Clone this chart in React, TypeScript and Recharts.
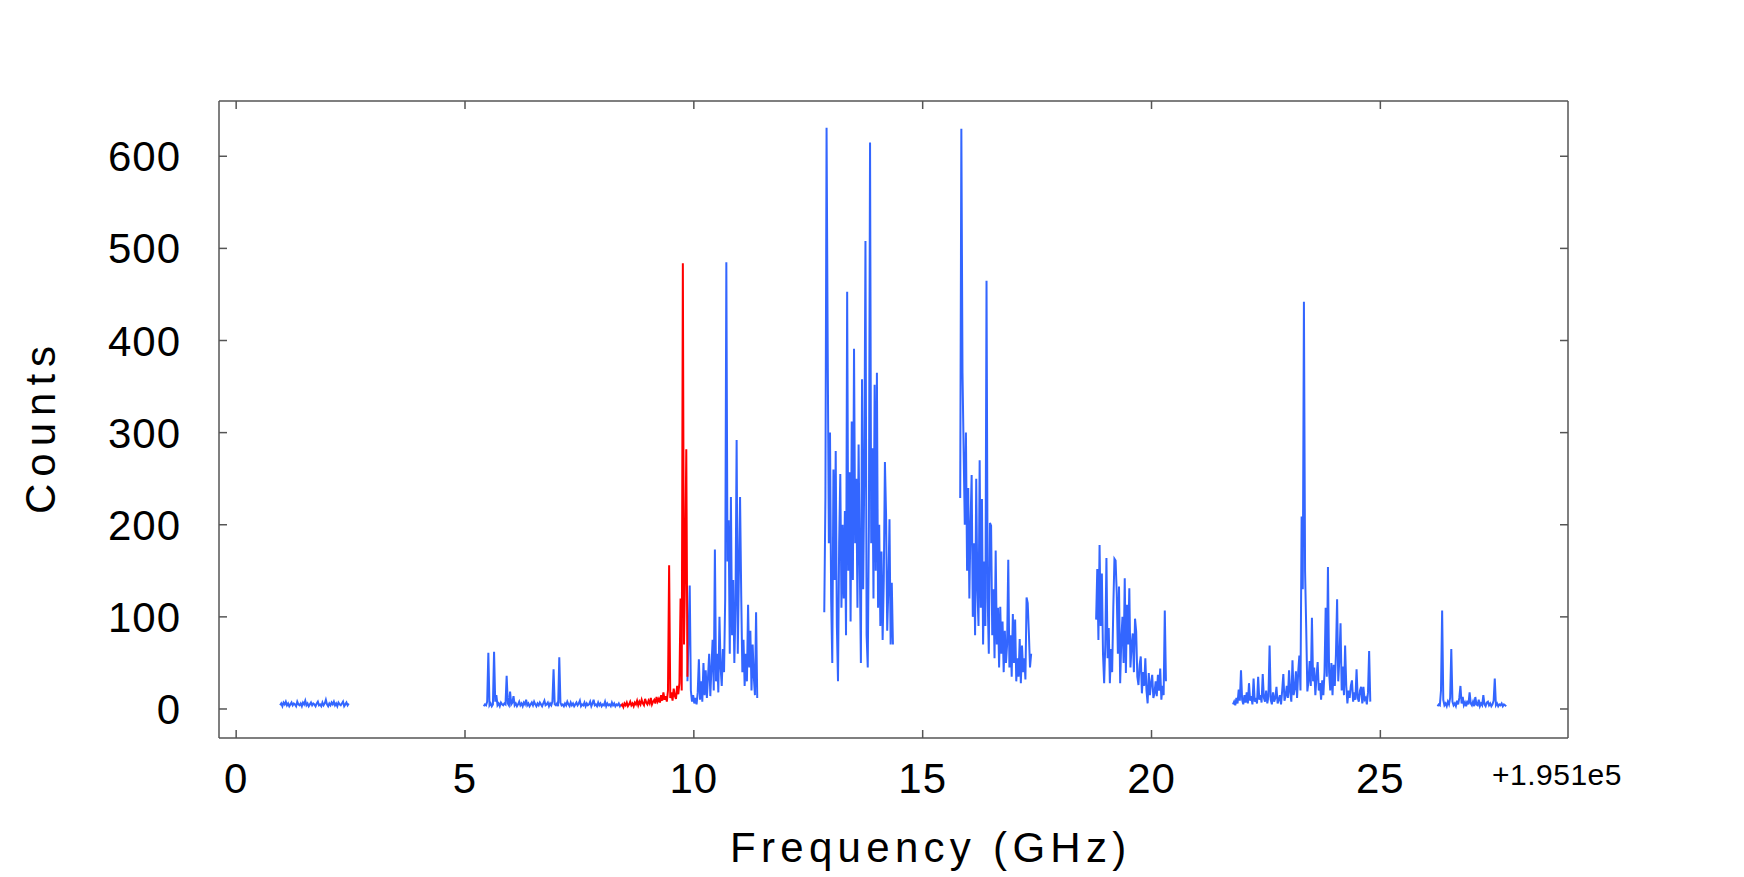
import React from "react";
import { LineChart, Line, XAxis, YAxis } from "recharts";

// Spectrum counts vs frequency. Frequencies are GHz offset from 1.951e5,
// each scan segment sampled every STEP GHz from its start.

const STEP = 0.025;

const SEG_A_START = 0.96;
const SEG_A = [4, 6, 3, 7, 5, 8, 4, 6, 3, 5, 7, 4, 6, 5, 3, 8, 5, 4, 6, 3, 7, 5, 9, 4, 6, 3, 5, 7, 4, 6, 5, 3, 6, 8, 4, 5, 3, 7, 4, 6, 10, 5, 3, 6, 4, 7, 5, 8, 4, 6, 3, 7, 5, 4, 6, 8, 3, 5, 7, 4, 6];

const SEG_B_START = 5.41;
const SEG_B = [
  3, 5, 4, 8, 61, 4, 6, 3, 5, 62,
  8, 15, 4, 6, 3, 7, 5, 4, 6, 5,
  36, 6, 4, 19, 5, 7, 14, 4, 6, 3,
  5, 8, 4, 6, 3, 7, 5, 10, 4, 6,
  3, 5, 7, 4, 8, 5, 3, 6, 4, 7,
  5, 3, 6, 9, 4, 5, 7, 3, 6, 4,
  8, 43, 5, 4, 6, 3, 56, 7, 4, 5,
  3, 6, 4, 8, 5, 3, 7, 4, 6, 3,
  5, 7, 4, 6, 9, 3, 5, 4, 7, 3,
  6, 4, 5, 8, 3, 6, 10, 4, 5, 3,
  7, 4, 6, 3, 5, 4, 8, 3, 6, 4,
  5, 3, 7, 4, 6, 3, 5, 4, 6, 3, 5,
];

// highlighted (red) stretch
const SEG_RED_START = 8.41;
const SEG_RED = [
  3, 5, 2, 6, 4, 7, 3, 5, 8, 4,
  6, 3, 7, 5, 9, 4, 8, 5, 10, 6,
  4, 11, 7, 5, 9, 6, 12, 5, 8, 10,
  6, 13, 8, 11, 7, 15, 9, 18, 10, 14,
  8, 20, 156, 12, 18, 9, 22, 14, 11, 25,
  16, 28, 120, 20, 484, 70, 150, 282, 35,
];

const SEG_C_START = 9.86;
const SEG_C = [
  30, 80, 134, 20, 8, 15, 6, 12, 5, 18,
  54, 10, 30, 8, 50, 15, 42, 12, 35, 60,
  14, 45, 75, 20, 173, 30, 60, 18, 100, 45,
  25, 65, 40, 120, 485, 160, 205, 60, 230, 80,
  140, 50, 110, 292, 60, 150, 230, 124, 40, 75,
  25, 60, 30, 113, 45, 85, 20, 70, 35, 15,
  105, 12,
];

const SEG_D_START = 12.85;
const SEG_D = [
  105, 230, 631, 390, 180, 300, 120, 50, 260, 140,
  280, 90, 30, 180, 255, 110, 200, 120, 215, 80,
  453, 150, 257, 95, 312, 140, 391, 180, 250, 110,
  287, 160, 50, 358, 130, 260, 508, 80, 45, 200,
  615, 180, 283, 120, 352, 150, 365, 110, 200, 90,
  171, 75, 140, 268, 211, 85, 130, 206, 70, 137,
  70,
];

const SEG_E_START = 15.82;
const SEG_E = [
  229, 630, 365, 280, 200, 300, 150, 240, 120, 200,
  254, 100, 180, 80, 250, 130, 90, 270, 110, 228,
  70, 160, 90, 465, 120, 60, 202, 199, 80, 130,
  55, 172, 70, 110, 45, 111, 60, 95, 40, 85,
  50, 70, 162, 45, 80, 35, 103, 50, 97, 30,
  55, 35, 76, 28, 69, 40, 55, 32, 121, 115,
  83, 45, 60,
];

const SEG_F_START = 18.79;
const SEG_F = [
  97, 152, 75, 178, 90, 147, 60, 28, 70, 164,
  55, 88, 28, 65, 40, 110, 163, 161, 126, 60,
  133, 28, 75, 100, 50, 142, 39, 113, 70, 131,
  45, 69, 82, 40, 98, 84, 35, 26, 48, 57,
  17, 40, 25, 55, 20, 6, 39, 15, 28, 37,
  12, 17, 30, 14, 37, 20, 44, 10, 25, 15,
  107, 30,
];

const SEG_G_START = 21.78;
const SEG_G = [
  5, 8, 4, 12, 6, 21, 9, 42, 10, 5,
  15, 7, 18, 6, 28, 9, 14, 5, 33, 8,
  12, 6, 35, 10, 15, 7, 38, 12, 8, 20,
  6, 14, 69, 10, 5, 18, 8, 12, 24, 6,
  10, 15, 5, 20, 38, 9, 14, 25, 12, 42,
  18, 8, 53, 15, 22, 41, 12, 40, 58, 20,
  209, 130, 442, 150, 88, 19, 30, 52, 25, 99,
  30, 45, 15, 35, 51, 20, 28, 10, 31, 15,
  40, 110, 35, 154, 40, 20, 50, 15, 48, 25,
  60, 119, 30, 55, 93, 20, 46, 15, 69, 25,
  6, 20, 12, 25, 31, 8, 18, 10, 43, 12,
  8, 20, 24, 6, 24, 10, 12, 5, 18, 63,
  8,
];

const SEG_H_START = 26.25;
const SEG_H = [
  3, 5, 4, 20, 107, 10, 4, 6, 3, 8,
  5, 12, 65, 8, 4, 6, 3, 9, 5, 12,
  25, 6, 13, 4, 7, 3, 9, 5, 18, 6,
  4, 8, 3, 13, 5, 4, 10, 3, 6, 4,
  15, 5, 3, 7, 8, 4, 6, 3, 5, 9,
  33, 4, 6, 3, 5, 4, 6, 3, 5, 4,
  3,
];

const BLUE_SEGMENTS = [
  { start: SEG_A_START, values: SEG_A },
  { start: SEG_B_START, values: SEG_B },
  { start: SEG_C_START, values: SEG_C },
  { start: SEG_D_START, values: SEG_D },
  { start: SEG_E_START, values: SEG_E },
  { start: SEG_F_START, values: SEG_F },
  { start: SEG_G_START, values: SEG_G },
  { start: SEG_H_START, values: SEG_H },
];
const RED_SEGMENT = { start: SEG_RED_START, values: SEG_RED };

const X_TICKS = [0, 5, 10, 15, 20, 25];
const Y_TICKS = [0, 100, 200, 300, 400, 500, 600];
const X_DOMAIN: [number, number] = [-0.375, 29.1];
const Y_DOMAIN: [number, number] = [-31.5, 660];

const X_LABEL = "Frequency (GHz)";
const Y_LABEL = "Counts";
const X_OFFSET_TEXT = "+1.951e5";

const BLUE = "#3366ff";
const RED = "#ff0000";
const AXIS_COLOR = "#555555";
const FONT = "'Liberation Sans', Arial, Helvetica, sans-serif";
const TICK_LEN = 8;

const W = 1744;
const H = 877;

function toPoints(seg: { start: number; values: number[] }) {
  return seg.values.map((c, i) => ({ f: +(seg.start + i * STEP).toFixed(4), c }));
}

// Ticks point inward; labels sit outside the frame.
function bottomTick(props: any) {
  const { x, y, payload } = props;
  return (
    <g>
      <line x1={x} y1={y} x2={x} y2={y - TICK_LEN} stroke={AXIS_COLOR} strokeWidth={1.5} />
      <text x={x} y={y + 55} textAnchor="middle" fontSize={42} fontFamily={FONT} letterSpacing={1} fill="#000">
        {payload.value}
      </text>
    </g>
  );
}

function topTick(props: any) {
  const { x, y } = props;
  return <line x1={x} y1={y} x2={x} y2={y + TICK_LEN} stroke={AXIS_COLOR} strokeWidth={1.5} />;
}

function leftTick(props: any) {
  const { x, y, payload } = props;
  return (
    <g>
      <line x1={x} y1={y} x2={x + TICK_LEN} y2={y} stroke={AXIS_COLOR} strokeWidth={1.5} />
      <text x={x - 38} y={y + 15} textAnchor="end" fontSize={42} fontFamily={FONT} letterSpacing={1} fill="#000">
        {payload.value}
      </text>
    </g>
  );
}

function rightTick(props: any) {
  const { x, y } = props;
  return <line x1={x} y1={y} x2={x - TICK_LEN} y2={y} stroke={AXIS_COLOR} strokeWidth={1.5} />;
}

export default function App() {
  const blue = BLUE_SEGMENTS.map(toPoints);
  const red = toPoints(RED_SEGMENT);
  const axisLine = { stroke: AXIS_COLOR, strokeWidth: 1.5 };

  return (
    <div style={{ position: "absolute", left: 0, top: 0, width: W, height: H, background: "#fff" }}>
      <LineChart width={W} height={H} margin={{ top: 100, right: 175, bottom: 138, left: 218 }}>
        <XAxis
          xAxisId="b"
          dataKey="f"
          type="number"
          domain={X_DOMAIN}
          allowDataOverflow
          ticks={X_TICKS}
          interval={0}
          orientation="bottom"
          height={1}
          tickSize={0}
          tickMargin={0}
          tickLine={false}
          axisLine={axisLine}
          tick={bottomTick}
        />
        <XAxis
          xAxisId="t"
          dataKey="f"
          type="number"
          domain={X_DOMAIN}
          allowDataOverflow
          ticks={X_TICKS}
          interval={0}
          orientation="top"
          height={1}
          tickSize={0}
          tickMargin={0}
          tickLine={false}
          axisLine={axisLine}
          tick={topTick}
        />
        <YAxis
          yAxisId="l"
          type="number"
          domain={Y_DOMAIN}
          allowDataOverflow
          ticks={Y_TICKS}
          interval={0}
          orientation="left"
          width={1}
          tickSize={0}
          tickMargin={0}
          tickLine={false}
          axisLine={axisLine}
          tick={leftTick}
        />
        <YAxis
          yAxisId="r"
          type="number"
          domain={Y_DOMAIN}
          allowDataOverflow
          ticks={Y_TICKS}
          interval={0}
          orientation="right"
          width={1}
          tickSize={0}
          tickMargin={0}
          tickLine={false}
          axisLine={axisLine}
          tick={rightTick}
        />
        {blue.map((pts, i) => (
          <Line
            key={`blue-${i}`}
            xAxisId="b"
            yAxisId="l"
            data={pts}
            dataKey="c"
            type="linear"
            stroke={BLUE}
            strokeWidth={2}
            dot={false}
            activeDot={false}
            isAnimationActive={false}
          />
        ))}
        <Line
          xAxisId="b"
          yAxisId="l"
          data={red}
          dataKey="c"
          type="linear"
          stroke={RED}
          strokeWidth={2}
          dot={false}
          activeDot={false}
          isAnimationActive={false}
        />
      </LineChart>
      <svg width={W} height={H} style={{ position: "absolute", left: 0, top: 0, pointerEvents: "none" }}>
        <text x={730} y={862} fontSize={42} fontFamily={FONT} letterSpacing={5.3} fill="#000">
          {X_LABEL}
        </text>
        <text
          x={55}
          y={514}
          fontSize={42}
          fontFamily={FONT}
          letterSpacing={7}
          fill="#000"
          transform="rotate(-90 55 514)"
        >
          {Y_LABEL}
        </text>
        <text x={1492} y={785} fontSize={30} fontFamily={FONT} letterSpacing={0.5} fill="#000">
          {X_OFFSET_TEXT}
        </text>
      </svg>
    </div>
  );
}
